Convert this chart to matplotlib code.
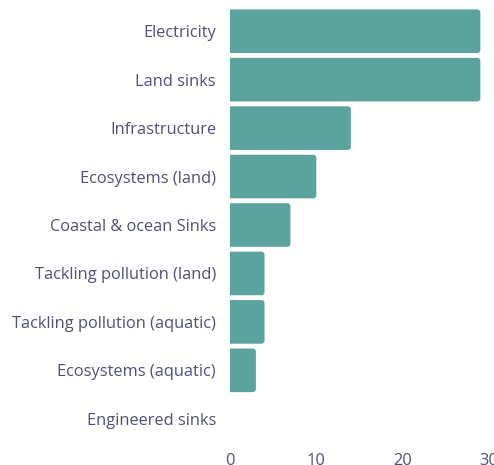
import matplotlib
matplotlib.use("Agg")
import matplotlib.pyplot as plt
from matplotlib.patches import FancyBboxPatch

categories = ["Electricity", "Land sinks", "Infrastructure", "Ecosystems (land)",
              "Coastal & ocean Sinks", "Tackling pollution (land)",
              "Tackling pollution (aquatic)", "Ecosystems (aquatic)", "Engineered sinks"]
values = [29, 29, 14, 10, 7, 4, 4, 3, 0]
xticks = [0, 10, 20, 30]

BAR = "#5ba39e"
TXT = "#505076"
plt.rcParams['font.family'] = ['Open Sans', 'DejaVu Sans']

fig = plt.figure(figsize=(4.94, 4.65), dpi=100)
ax = fig.add_axes([230/494, 22/465, (489-230)/494, (465-7-22)/465])
ypos = list(range(len(categories)))
bars = ax.barh(ypos, values, height=0.9, color=BAR)
# replace with rounded-right-corner versions
for b in bars:
    x, y, w, h = b.get_x(), b.get_y(), b.get_width(), b.get_height()
    b.set_visible(False)
    if w <= 0:
        continue
    p = FancyBboxPatch((x - 1, y), w + 1, h,
                       boxstyle="round,pad=0,rounding_size=0.36",
                       mutation_aspect=0.175, fc=BAR, ec="none", clip_on=True)
    ax.add_patch(p)
ax.set_ylim(len(categories) - 0.5, -0.5)
ax.set_xlim(0, 30)
ax.set_yticks(ypos)
ax.set_yticklabels(categories)
ax.set_xticks(xticks)
ax.set_xticklabels([str(t) for t in xticks])
ax.tick_params(axis='both', length=0, colors=TXT, labelsize=11.8)
ax.tick_params(axis='y', pad=10)
ax.tick_params(axis='x', pad=7)
for s in ax.spines.values():
    s.set_visible(False)
fig.savefig("out.png", dpi=100)
